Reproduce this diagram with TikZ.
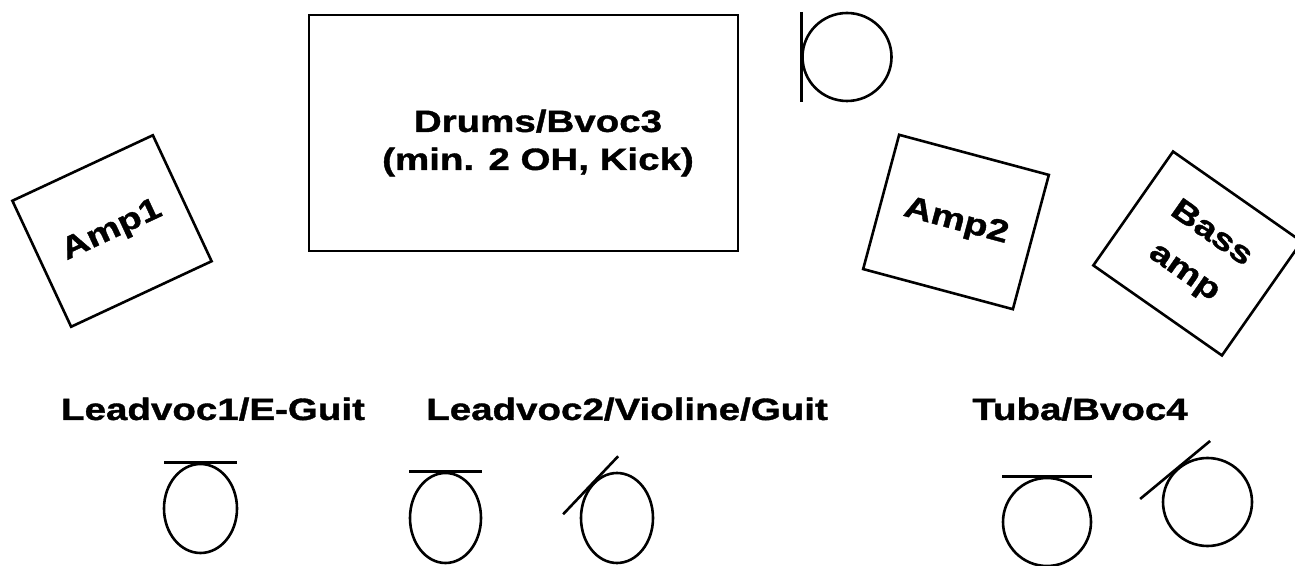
\documentclass[tikz,border=0pt]{standalone}
\usepackage{fontspec}
\newfontfamily\stagefont{Liberation Sans}[FakeStretch=1.25,FakeBold=1.2]
\usetikzlibrary{shapes.geometric}
\tikzset{
  stagetext/.style={font=\stagefont\bfseries\fontsize{15.4}{19}\selectfont,align=center,inner sep=0pt},
  drumbox/.style={draw,line width=1.3pt,rectangle,minimum width=214.5pt,minimum height=118pt,inner sep=0pt},
  ampbox/.style={draw,line width=1.3pt,rectangle,minimum width=77.5pt,minimum height=69.5pt,inner sep=0pt,stagetext},
  micbody/.style={draw,ellipse,line width=1.3pt,inner sep=0pt},
  micstand/.style={line width=1.3pt}
}
\begin{document}
\begin{tikzpicture}[x=0.5pt,y=-0.5pt]
\useasboundingbox (0,0) rectangle (1295,566);
\node[drumbox] (drums) at (523.5,133) {};
\node[stagetext] (drumstxt) at (538,143) {Drums/Bvoc3\\(min. 2 OH, Kick)};
\node[micbody,minimum width=44.5pt,minimum height=44pt] (drummic) at (847,57) {};
\draw[micstand] (drummic.west) ++(0,-45) -- ++(0,90);
\node[ampbox,rotate=25] (amp1) at (112,231) {Amp1};
\node[ampbox,rotate=-15] (amp2) at (956,222) {Amp2};
\node[ampbox,rotate=-35,minimum width=78.5pt,font=\stagefont\bfseries\fontsize{15.4}{23.5}\selectfont] (bassamp) at (1197.5,253.5) {Bass\\amp};
\node[stagetext,anchor=base] (lead1) at (213,420) {Leadvoc1/E-Guit};
\node[stagetext,anchor=base] (lead2) at (627,420) {Leadvoc2/Violine/Guit};
\node[stagetext,anchor=base] (tuba) at (1080,420) {Tuba/Bvoc4};
\node[micbody,minimum width=36.5pt,minimum height=44.5pt] (mic1) at (200.5,508.5) {};
\draw[micstand] (mic1.north) ++(-36.5,0) -- ++(73,0);
\node[micbody,minimum width=35.5pt,minimum height=45pt] (mic2) at (445.5,518) {};
\draw[micstand] (mic2.north) ++(-36.5,0) -- ++(73,0);
\node[micbody,minimum width=36pt,minimum height=45pt] (mic3) at (617,518) {};
\draw[micstand] (mic3.north west) ++(-27.5,29) -- ++(55,-58);
\node[micbody,minimum width=44pt,minimum height=44pt] (mic4) at (1047,522) {};
\draw[micstand] (mic4.north) ++(-45,0) -- ++(90,0);
\node[micbody,minimum width=44.5pt,minimum height=44pt] (mic5) at (1207.5,502) {};
\draw[micstand] (mic5.north west) ++(-35,29) -- ++(70,-58);
\end{tikzpicture}
\end{document}
